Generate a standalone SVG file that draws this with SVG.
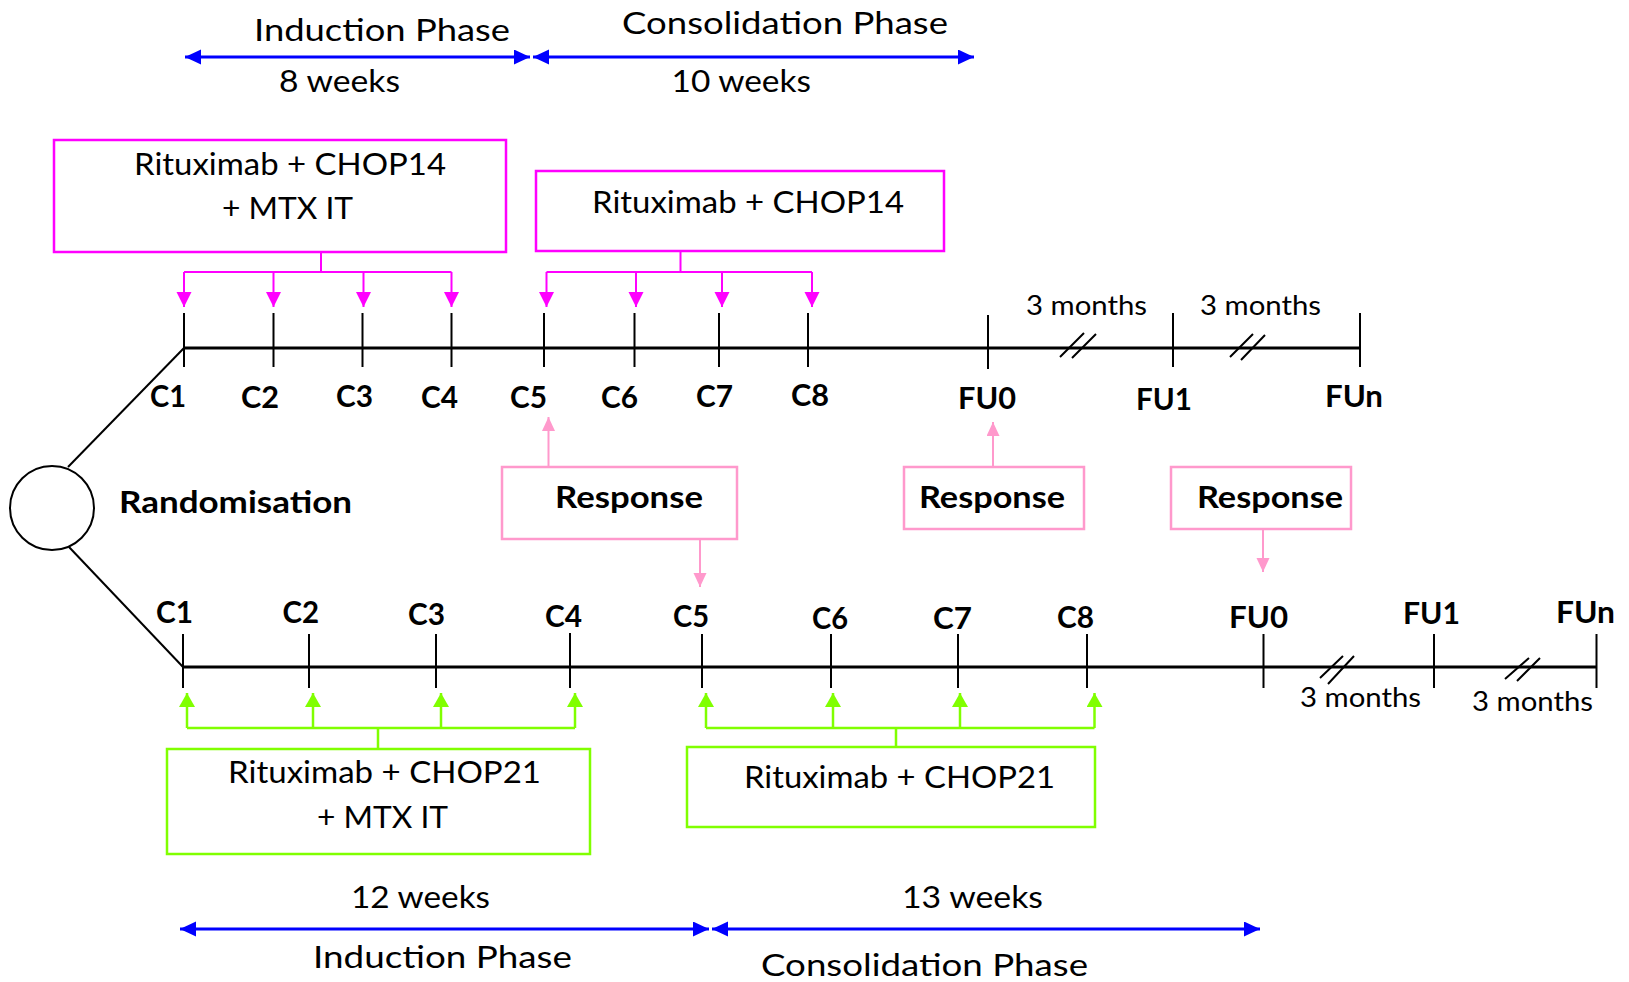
<svg xmlns="http://www.w3.org/2000/svg" width="1629" height="982" viewBox="0 0 1629 982">
<style>
text{font-family:Lato,"Open Sans","Liberation Sans",sans-serif;fill:#000}
.r{font-size:31px}
.ph{font-size:30px}
.m{font-size:26px}
.b{font-size:31px;font-weight:bold}
.rb{font-size:30px;font-weight:bold}
.tl{stroke:#000;stroke-width:3;fill:none}
.tk{stroke:#000;stroke-width:2;fill:none}
.mg{stroke:#FF00FF;stroke-width:2;fill:none}
.pk{stroke:#FF99CC;stroke-width:2;fill:none}
.gr{stroke:#80FF00;stroke-width:2.5;fill:none}
.bl{stroke:#0000FF;stroke-width:3;fill:none}
.bxm{fill:#fff;stroke:#FF00FF;stroke-width:2.5}
.bxp{fill:#fff;stroke:#FF99CC;stroke-width:2.5}
.bxg{fill:#fff;stroke:#80FF00;stroke-width:2.5}
</style>
<defs>
<marker id="am" markerUnits="userSpaceOnUse" markerWidth="16" markerHeight="16" refX="15" refY="7.5" orient="auto"><path d="M0,0 L15,7.5 L0,15 z" fill="#FF00FF"/></marker>
<marker id="ap" markerUnits="userSpaceOnUse" markerWidth="16" markerHeight="16" refX="14" refY="6.5" orient="auto"><path d="M0,0 L14,6.5 L0,13 z" fill="#FF99CC"/></marker>
<marker id="ag" markerUnits="userSpaceOnUse" markerWidth="16" markerHeight="18" refX="14" refY="8" orient="auto"><path d="M0,0 L14,8 L0,16 z" fill="#80FF00"/></marker>
<marker id="ab" markerUnits="userSpaceOnUse" markerWidth="18" markerHeight="16" refX="16" refY="7.5" orient="auto-start-reverse"><path d="M0,0 L16,7.5 L0,15 z" fill="#0000FF"/></marker>
</defs>

<g id="connectors">
  <!-- top phase arrows -->
  <line class="bl" x1="185" y1="57" x2="530" y2="57" marker-start="url(#ab)" marker-end="url(#ab)"/>
  <line class="bl" x1="533" y1="57" x2="974" y2="57" marker-start="url(#ab)" marker-end="url(#ab)"/>
  <!-- bottom phase arrows -->
  <line class="bl" x1="180" y1="929" x2="709" y2="929" marker-start="url(#ab)" marker-end="url(#ab)"/>
  <line class="bl" x1="712" y1="929" x2="1260" y2="929" marker-start="url(#ab)" marker-end="url(#ab)"/>

  <!-- randomisation branches -->
  <line class="tk" x1="68" y1="467" x2="184" y2="348"/>
  <line class="tk" x1="69" y1="547" x2="183" y2="667"/>

  <!-- magenta top brackets -->
  <path class="mg" d="M321,252 V272 M184,272 H451.5 M546.5,272 H812 M680.5,251 V272"/>
  <line class="mg" x1="184" y1="272" x2="184" y2="307" marker-end="url(#am)"/>
  <line class="mg" x1="273.5" y1="272" x2="273.5" y2="307" marker-end="url(#am)"/>
  <line class="mg" x1="363.5" y1="272" x2="363.5" y2="307" marker-end="url(#am)"/>
  <line class="mg" x1="451.5" y1="272" x2="451.5" y2="307" marker-end="url(#am)"/>
  <line class="mg" x1="546.5" y1="272" x2="546.5" y2="307" marker-end="url(#am)"/>
  <line class="mg" x1="636" y1="272" x2="636" y2="307" marker-end="url(#am)"/>
  <line class="mg" x1="722" y1="272" x2="722" y2="307" marker-end="url(#am)"/>
  <line class="mg" x1="812" y1="272" x2="812" y2="307" marker-end="url(#am)"/>

  <!-- green bottom brackets -->
  <path class="gr" d="M378,749 V728 M187,728 H575 M706,728 H1094.5 M896,747 V728"/>
  <line class="gr" x1="187" y1="728" x2="187" y2="693" marker-end="url(#ag)"/>
  <line class="gr" x1="313" y1="728" x2="313" y2="693" marker-end="url(#ag)"/>
  <line class="gr" x1="441" y1="728" x2="441" y2="693" marker-end="url(#ag)"/>
  <line class="gr" x1="575" y1="728" x2="575" y2="693" marker-end="url(#ag)"/>
  <line class="gr" x1="706" y1="728" x2="706" y2="693" marker-end="url(#ag)"/>
  <line class="gr" x1="833" y1="728" x2="833" y2="693" marker-end="url(#ag)"/>
  <line class="gr" x1="960" y1="728" x2="960" y2="693" marker-end="url(#ag)"/>
  <line class="gr" x1="1094.5" y1="728" x2="1094.5" y2="693" marker-end="url(#ag)"/>

  <!-- response arrows -->
  <line class="pk" x1="548.5" y1="467" x2="548.5" y2="417" marker-end="url(#ap)"/>
  <line class="pk" x1="700" y1="540" x2="700" y2="587" marker-end="url(#ap)"/>
  <line class="pk" x1="993" y1="467" x2="993" y2="422" marker-end="url(#ap)"/>
  <line class="pk" x1="1263" y1="530" x2="1263" y2="572" marker-end="url(#ap)"/>
</g>

<g id="randomisation">
  <circle cx="52" cy="508" r="42" fill="#fff" stroke="#000" stroke-width="2"/>
  <text class="rb" x="119" y="513" textLength="233" lengthAdjust="spacingAndGlyphs">Randomisation</text>
</g>

<g id="top-timeline">
  <line class="tl" x1="184" y1="348" x2="1360" y2="348"/>
  <path class="tk" d="M184,313 V367 M273.5,313 V367 M362.5,313 V367 M451.5,313 V367 M544,313 V367 M634.5,313 V367 M719,313 V367 M808,313 V367 M988,315 V369 M1173,313 V367 M1360,313 V367"/>
  <path class="tk" d="M1060,357 L1084,333 M1072,358 L1096,334 M1230,357 L1253,334 M1241,360 L1265,335"/>
  <text class="b" x="150" y="407" textLength="36" lengthAdjust="spacingAndGlyphs">C1</text>
  <text class="b" x="241" y="408" textLength="38" lengthAdjust="spacingAndGlyphs">C2</text>
  <text class="b" x="336" y="407" textLength="37" lengthAdjust="spacingAndGlyphs">C3</text>
  <text class="b" x="421" y="408" textLength="37" lengthAdjust="spacingAndGlyphs">C4</text>
  <text class="b" x="510" y="408" textLength="37" lengthAdjust="spacingAndGlyphs">C5</text>
  <text class="b" x="601" y="408" textLength="37" lengthAdjust="spacingAndGlyphs">C6</text>
  <text class="b" x="696" y="407" textLength="37" lengthAdjust="spacingAndGlyphs">C7</text>
  <text class="b" x="791" y="406" textLength="38" lengthAdjust="spacingAndGlyphs">C8</text>
  <text class="b" x="958" y="409" textLength="58" lengthAdjust="spacingAndGlyphs">FU0</text>
  <text class="b" x="1136" y="410" textLength="56" lengthAdjust="spacingAndGlyphs">FU1</text>
  <text class="b" x="1325" y="407" textLength="58" lengthAdjust="spacingAndGlyphs">FUn</text>
  <text class="m" x="1026" y="315" textLength="121" lengthAdjust="spacingAndGlyphs">3 months</text>
  <text class="m" x="1200" y="315" textLength="121" lengthAdjust="spacingAndGlyphs">3 months</text>
</g>

<g id="bottom-timeline">
  <line class="tl" x1="183" y1="667" x2="1596.5" y2="667"/>
  <path class="tk" d="M183,634 V688 M309,634 V688 M436,634 V688 M570,633 V688 M702,634 V688 M831,634 V688 M958,634 V688 M1087,634 V688 M1263.5,634 V688 M1434,634 V688 M1596.5,634 V688"/>
  <path class="tk" d="M1320,678 L1343,656 M1328,684 L1354,656 M1505,679 L1529,658 M1517,681 L1540,658"/>
  <text class="b" x="156" y="623" textLength="37" lengthAdjust="spacingAndGlyphs">C1</text>
  <text class="b" x="282.5" y="623" textLength="36.5" lengthAdjust="spacingAndGlyphs">C2</text>
  <text class="b" x="408" y="625" textLength="37" lengthAdjust="spacingAndGlyphs">C3</text>
  <text class="b" x="545" y="627" textLength="37" lengthAdjust="spacingAndGlyphs">C4</text>
  <text class="b" x="673" y="627" textLength="36" lengthAdjust="spacingAndGlyphs">C5</text>
  <text class="b" x="812" y="629" textLength="36" lengthAdjust="spacingAndGlyphs">C6</text>
  <text class="b" x="933" y="629" textLength="39" lengthAdjust="spacingAndGlyphs">C7</text>
  <text class="b" x="1057" y="628" textLength="37" lengthAdjust="spacingAndGlyphs">C8</text>
  <text class="b" x="1229" y="628" textLength="59" lengthAdjust="spacingAndGlyphs">FU0</text>
  <text class="b" x="1403" y="624" textLength="57" lengthAdjust="spacingAndGlyphs">FU1</text>
  <text class="b" x="1556" y="623" textLength="59" lengthAdjust="spacingAndGlyphs">FUn</text>
  <text class="m" x="1300" y="707" textLength="121" lengthAdjust="spacingAndGlyphs">3 months</text>
  <text class="m" x="1472" y="711" textLength="121" lengthAdjust="spacingAndGlyphs">3 months</text>
</g>

<g id="phase-top">
  <text class="ph" x="254" y="41" textLength="256" lengthAdjust="spacingAndGlyphs">Induction Phase</text>
  <text class="ph" x="622" y="34" textLength="326" lengthAdjust="spacingAndGlyphs">Consolidation Phase</text>
  <text class="ph" x="279" y="92" textLength="121" lengthAdjust="spacingAndGlyphs">8 weeks</text>
  <text class="ph" x="671.5" y="92" textLength="139.5" lengthAdjust="spacingAndGlyphs">10 weeks</text>
</g>

<g id="phase-bottom">
  <text class="ph" x="351" y="908" textLength="139" lengthAdjust="spacingAndGlyphs">12 weeks</text>
  <text class="ph" x="902" y="908" textLength="141" lengthAdjust="spacingAndGlyphs">13 weeks</text>
  <text class="ph" x="313" y="968" textLength="259" lengthAdjust="spacingAndGlyphs">Induction Phase</text>
  <text class="ph" x="761" y="976" textLength="327" lengthAdjust="spacingAndGlyphs">Consolidation Phase</text>
</g>

<g id="box-rchop14-mtx">
  <rect class="bxm" x="54" y="140" width="452" height="112"/>
  <text class="r" x="134" y="175" textLength="312" lengthAdjust="spacingAndGlyphs">Rituximab + CHOP14</text>
  <text class="r" x="222" y="219" textLength="131" lengthAdjust="spacingAndGlyphs">+ MTX IT</text>
</g>
<g id="box-rchop14">
  <rect class="bxm" x="536" y="171" width="408" height="80"/>
  <text class="r" x="592" y="213" textLength="312" lengthAdjust="spacingAndGlyphs">Rituximab + CHOP14</text>
</g>
<g id="box-rchop21-mtx">
  <rect class="bxg" x="167" y="749" width="423" height="105"/>
  <text class="r" x="228" y="783" textLength="313" lengthAdjust="spacingAndGlyphs">Rituximab + CHOP21</text>
  <text class="r" x="317" y="828" textLength="131" lengthAdjust="spacingAndGlyphs">+ MTX IT</text>
</g>
<g id="box-rchop21">
  <rect class="bxg" x="687" y="747" width="408" height="80"/>
  <text class="r" x="744" y="788" textLength="311" lengthAdjust="spacingAndGlyphs">Rituximab + CHOP21</text>
</g>

<g id="response-1">
  <rect class="bxp" x="502" y="467" width="235" height="72"/>
  <text class="rb" x="555" y="508" textLength="148" lengthAdjust="spacingAndGlyphs">Response</text>
</g>
<g id="response-2">
  <rect class="bxp" x="904" y="467" width="180" height="62"/>
  <text class="rb" x="919" y="508" textLength="146" lengthAdjust="spacingAndGlyphs">Response</text>
</g>
<g id="response-3">
  <rect class="bxp" x="1171" y="467" width="180" height="62"/>
  <text class="rb" x="1197" y="508" textLength="146" lengthAdjust="spacingAndGlyphs">Response</text>
</g>
</svg>
